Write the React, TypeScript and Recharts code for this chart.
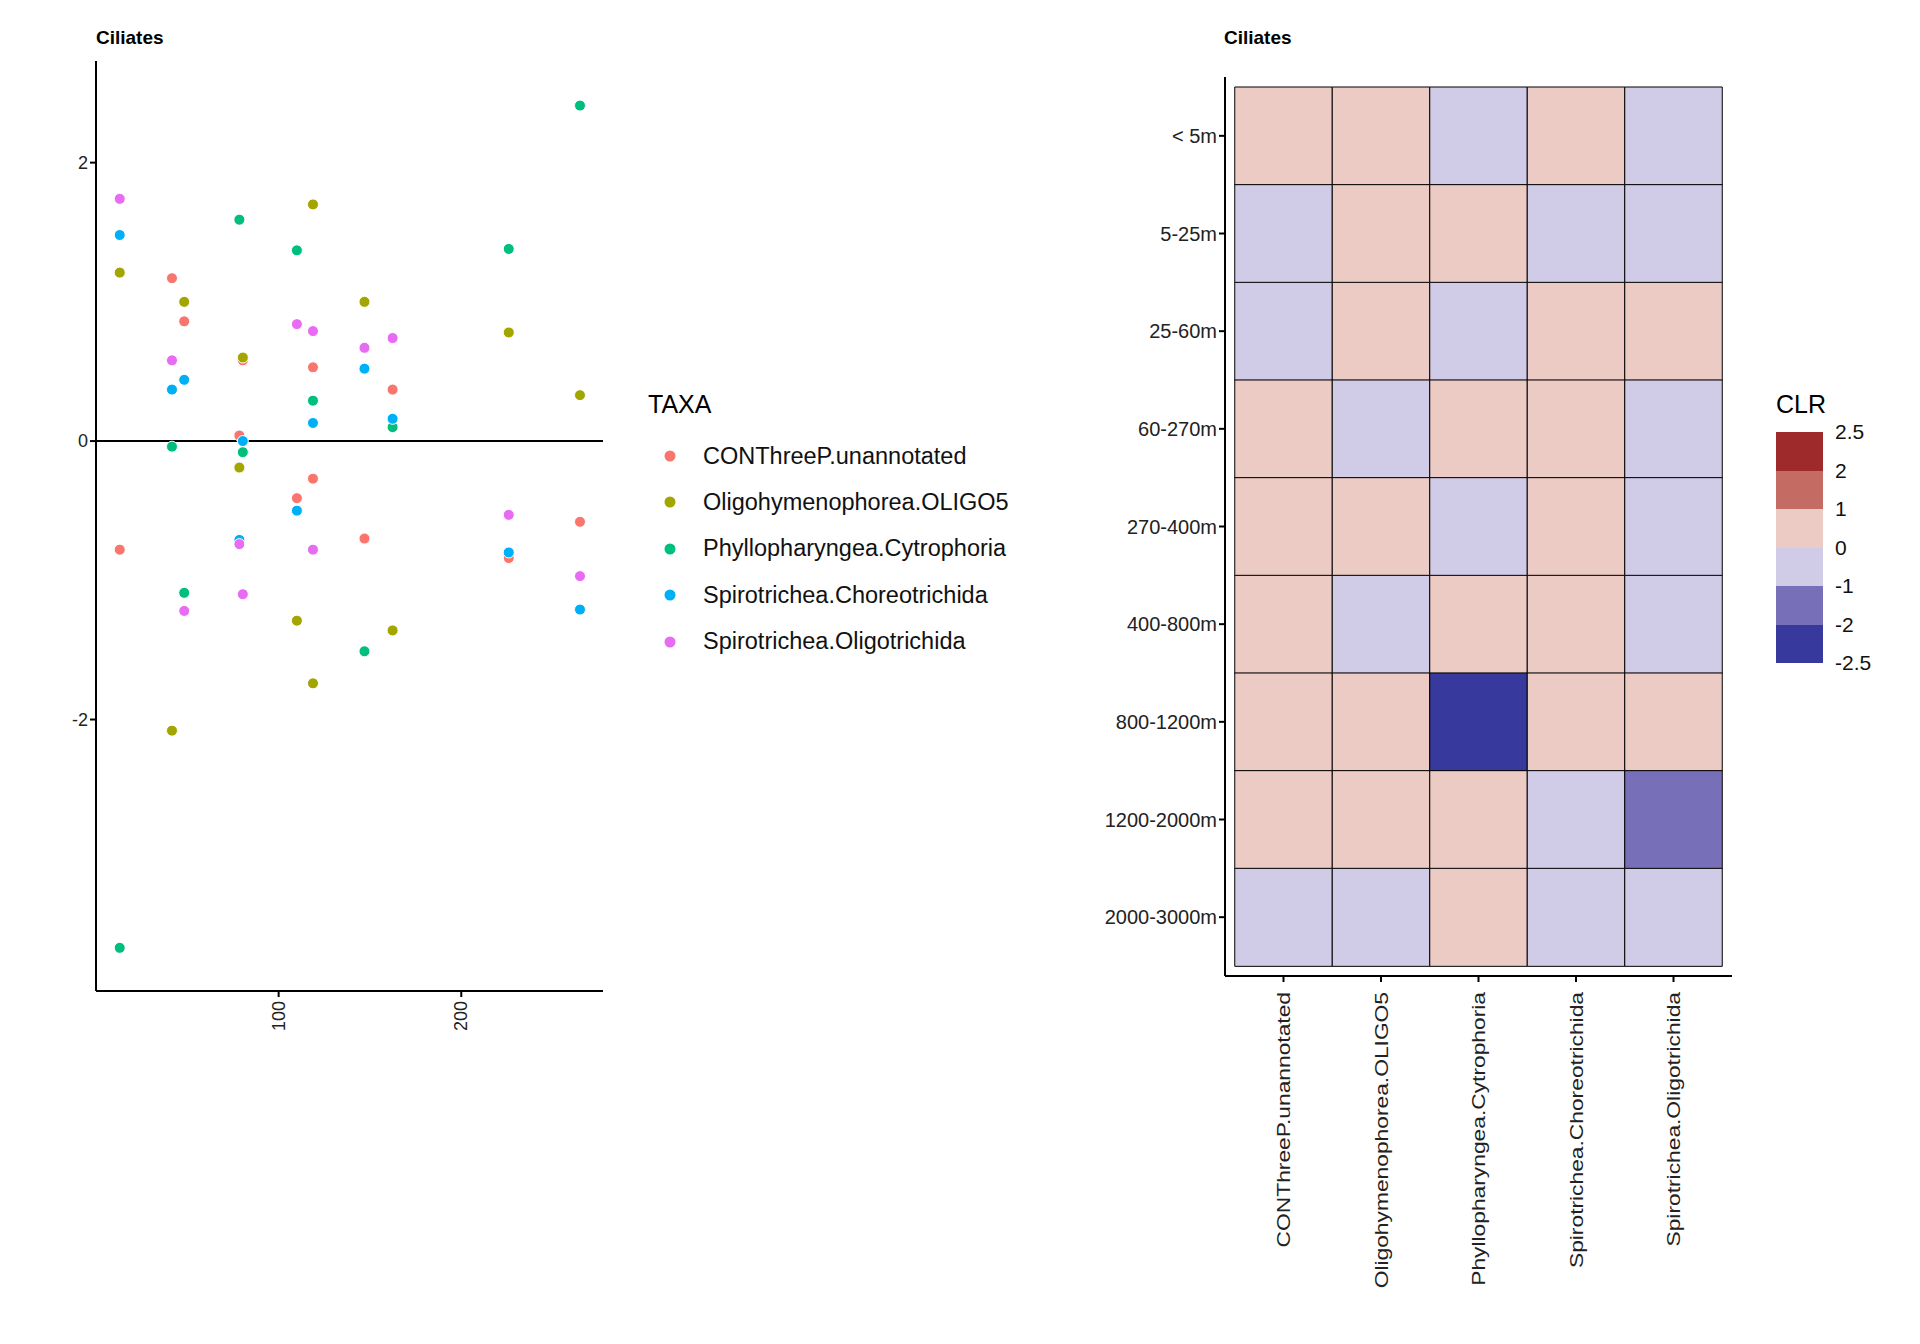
import React from "react";
import { ScatterChart, Scatter, XAxis, YAxis, ReferenceLine, BarChart, Bar, Cell } from "recharts";

const FONT = "'Liberation Sans', Arial, Helvetica, sans-serif";

const taxa = [
  "CONThreeP.unannotated",
  "Oligohymenophorea.OLIGO5",
  "Phyllopharyngea.Cytrophoria",
  "Spirotrichea.Choreotrichida",
  "Spirotrichea.Oligotrichida",
];
const taxaColors = ["#F8766D", "#A3A500", "#00BF7D", "#00B0F6", "#E76BF3"];

const conthree = [[13,-0.78],[41.6,1.17],[48.3,0.86],[78.5,0.04],[80.4,0.58],[110,-0.41],[118.8,0.53],[118.8,-0.27],[147,-0.7],[162.4,0.37],[226,-0.84],[265,-0.58]];
const oligo5 = [[13,1.21],[41.6,-2.08],[48.3,1.0],[78.5,-0.19],[80.4,0.6],[110,-1.29],[118.8,1.7],[118.8,-1.74],[147,1.0],[162.4,-1.36],[226,0.78],[265,0.33]];
const cyrto = [[13,-3.64],[41.6,-0.04],[48.3,-1.09],[78.5,1.59],[80.4,-0.08],[110,1.37],[118.8,0.29],[147,-1.51],[162.4,0.1],[226,1.38],[265,2.41]];
const choreo = [[13,1.48],[41.6,0.37],[48.3,0.44],[78.5,-0.71],[80.4,0.0],[110,-0.5],[118.8,0.13],[147,0.52],[162.4,0.16],[226,-0.8],[265,-1.21]];
const oligotri = [[13,1.74],[41.6,0.58],[48.3,-1.22],[78.5,-0.74],[80.4,-1.1],[110,0.84],[118.8,0.79],[118.8,-0.78],[147,0.67],[162.4,0.74],[226,-0.53],[265,-0.97]];
const scatterSeries = [conthree, oligo5, cyrto, choreo, oligotri];

const depths = ["< 5m","5-25m","25-60m","60-270m","270-400m","400-800m","800-1200m","1200-2000m","2000-3000m"];
const clr = [
  [0.5,0.5,-0.5,0.5,-0.5],
  [-0.5,0.5,0.5,-0.5,-0.5],
  [-0.5,0.5,-0.5,0.5,0.5],
  [0.5,-0.5,0.5,0.5,-0.5],
  [0.5,0.5,-0.5,0.5,-0.5],
  [0.5,-0.5,0.5,0.5,-0.5],
  [0.5,0.5,-2.3,0.5,0.5],
  [0.5,0.5,0.5,-0.5,-1.5],
  [-0.5,-0.5,0.5,-0.5,-0.5],
];
const clrLabels = ["2.5","2","1","0","-1","-2","-2.5"];
const clrColors = ["#9E2A2B","#C46B63","#ECCBC5","#D0CCE8","#7770B9","#373A9C"];

function clrColor(v: number) {
  if (v >= 2) return clrColors[0];
  if (v >= 1) return clrColors[1];
  if (v >= 0) return clrColors[2];
  if (v >= -1) return clrColors[3];
  if (v >= -2) return clrColors[4];
  return clrColors[5];
}

const heatData = depths.map((d) => {
  const row: any = { depth: d };
  taxa.forEach((_, j) => { row["c" + j] = 1; });
  return row;
});

const RotTick = (props: any) => {
  const { x, y, payload, fmt, dy, fs, sx } = props;
  const label = fmt ? fmt(payload.value) : payload.value;
  return (
    <text transform={`translate(${x} ${y + dy}) rotate(-90) scale(${sx || 1} 1)`} x={0} y={0} textAnchor="end" dominantBaseline="central"
      fontFamily={FONT} fontSize={fs || 16} fill="#222">{label}</text>
  );
};

export default function App() {
  return (
    <div style={{ position: "absolute", left: 0, top: 0, width: 1920, height: 1344, background: "#fff", fontFamily: FONT }}>
      <div style={{ position: "absolute", left: 96, top: 27, fontSize: 19, fontWeight: "bold" }}>Ciliates</div>
      <div style={{ position: "absolute", left: 0, top: 0 }}>
        <ScatterChart width={640} height={1100} margin={{ top: 61, left: 0, right: 37, bottom: 29 }}>
          <XAxis type="number" dataKey="x" domain={[0, 277.6]} ticks={[100, 200]} allowDataOverflow
            height={80} stroke="#000" strokeWidth={2} tickSize={6}
            tick={<RotTick dy={2} fs={18} />} />
          <YAxis type="number" dataKey="y" domain={[-3.95, 2.73]} ticks={[-2, 0, 2]} allowDataOverflow
            width={96} stroke="#000" strokeWidth={2} tickSize={6}
            tick={{ fontSize: 18, fill: "#222", fontFamily: FONT }} />
          <ReferenceLine y={0} stroke="#000" strokeWidth={2} />
          {scatterSeries.map((s, i) => (
            <Scatter key={i} name={taxa[i]} data={s.map(([x, y]) => ({ x, y }))} fill={taxaColors[i]}
              isAnimationActive={false}
              shape={(p: any) => <circle cx={p.cx} cy={p.cy} r={5.5} fill={taxaColors[i]} stroke="#fff" strokeWidth={1} />} />
          ))}
        </ScatterChart>
      </div>
      <div style={{ position: "absolute", left: 648, top: 390, fontSize: 25 }}>TAXA</div>
      {taxa.map((t, i) => (
        <div key={t} style={{ position: "absolute", left: 663, top: 444 + i * 46.4, height: 24, display: "flex", alignItems: "center" }}>
          <svg width={14} height={14}><circle cx={7} cy={7} r={5.5} fill={taxaColors[i]} /></svg>
          <span style={{ marginLeft: 26, fontSize: 23.5, color: "#111" }}>{t}</span>
        </div>
      ))}

      <div style={{ position: "absolute", left: 1224, top: 27, fontSize: 19, fontWeight: "bold" }}>Ciliates</div>
      <div style={{ position: "absolute", left: 1000, top: 0 }}>
        <BarChart width={820} height={1344} layout="vertical" data={heatData} barCategoryGap={0}
          margin={{ top: 77, left: 0, right: 88, bottom: 68 }}>
          <XAxis type="number" domain={[-0.1, 5.1]} ticks={[0.5, 1.5, 2.5, 3.5, 4.5]} allowDataOverflow
            height={300} stroke="#000" strokeWidth={2} tickSize={6}
            tick={<RotTick dy={8} fs={19} sx={1.2} fmt={(v: number) => taxa[Math.floor(v)]} />} />
          <YAxis type="category" dataKey="depth" width={225} stroke="#000" strokeWidth={2} tickSize={6}
            padding={{ top: 10, bottom: 10 }}
            tick={{ fontSize: 20, fill: "#222", fontFamily: FONT }} />
          {taxa.map((t, j) => (
            <Bar key={t} dataKey={"c" + j} stackId="a" isAnimationActive={false} stroke="#000" strokeWidth={1}>
              {heatData.map((_, i) => <Cell key={i} fill={clrColor(clr[i][j])} />)}
            </Bar>
          ))}
        </BarChart>
      </div>
      <div style={{ position: "absolute", left: 1776, top: 390, fontSize: 25 }}>CLR</div>
      {clrColors.map((c, i) => (
        <div key={c} style={{ position: "absolute", left: 1776, top: 432 + i * 38.5, width: 47, height: 38.5, background: c }} />
      ))}
      {clrLabels.map((l, i) => (
        <div key={l} style={{ position: "absolute", left: 1835, top: 432 + i * 38.5 - 12, fontSize: 21, color: "#111" }}>{l}</div>
      ))}
    </div>
  );
}
